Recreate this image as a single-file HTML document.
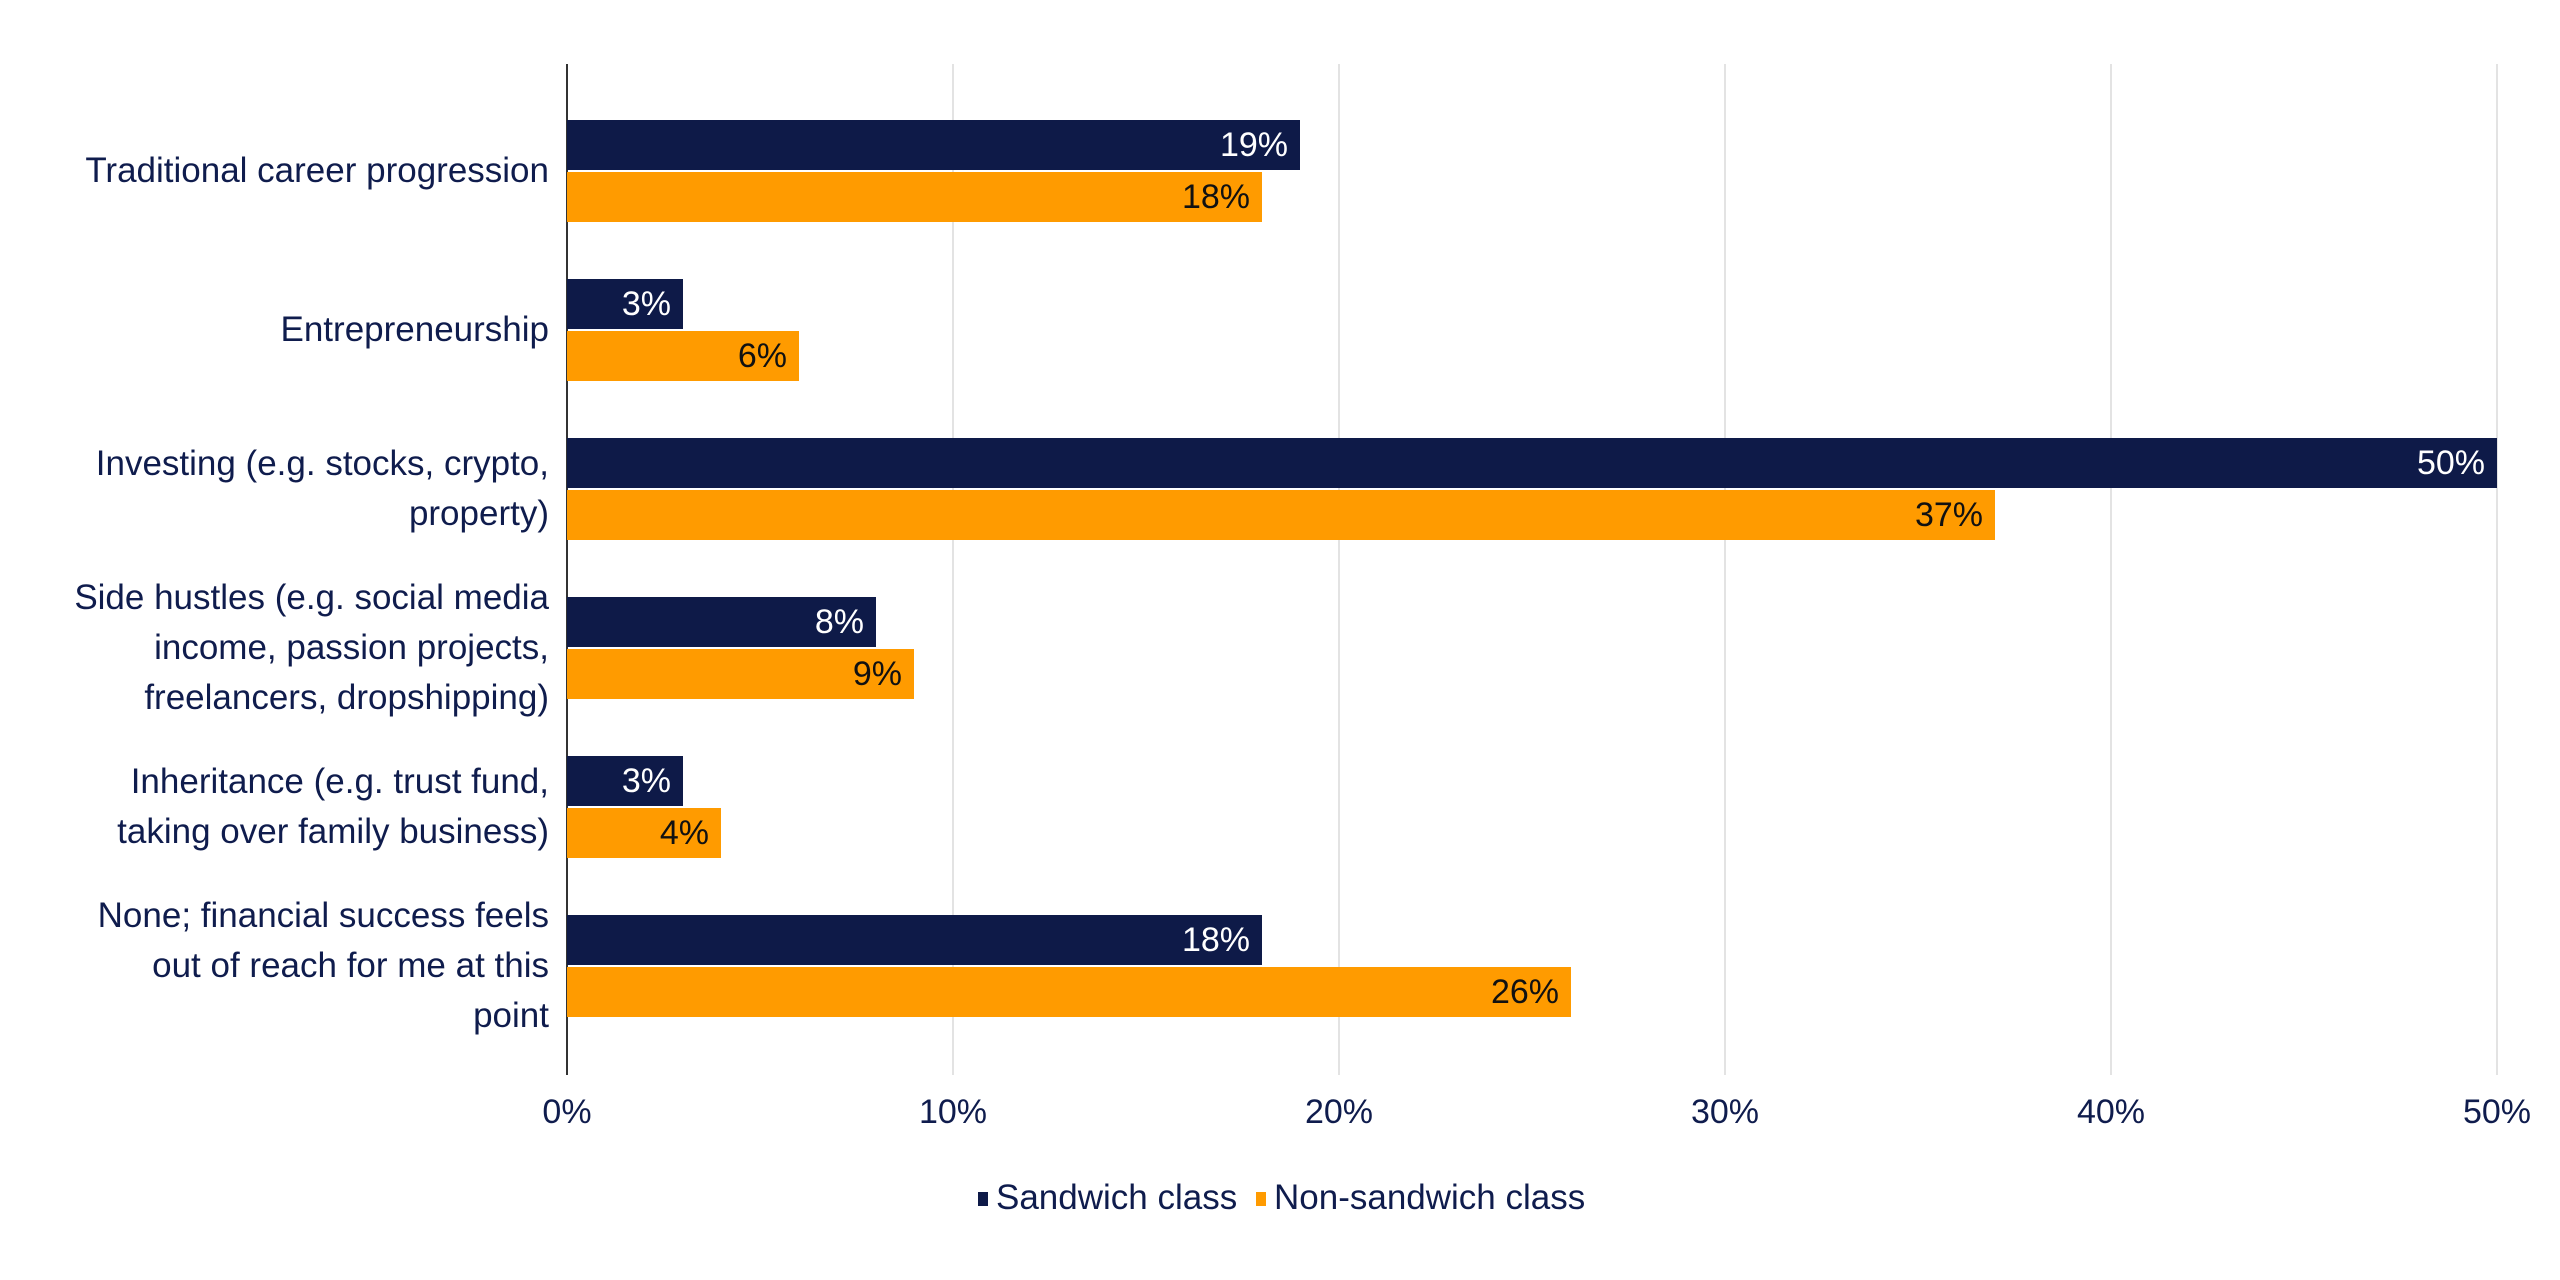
<!DOCTYPE html>
<html><head><style>
html,body{margin:0;padding:0;background:#fff;}
body{width:2560px;height:1280px;position:relative;overflow:hidden;font-family:"Liberation Sans",Arial,sans-serif;color:#0f1c4d;}
.grid{position:absolute;top:64px;height:1011px;width:2px;background:#e3e3e3;}
.axis{position:absolute;left:566px;top:64px;height:1011px;width:2px;background:#333;}
.bar{position:absolute;height:50px;}
.n{background:#0e1a48;}
.o{background:#ff9b00;}
.v{position:absolute;right:12px;top:0;line-height:50px;font-size:34px;}
.n .v{color:#fff}.o .v{color:#111}
.lab{position:absolute;right:2011px;width:560px;text-align:right;font-size:35px;line-height:50px;transform:translateY(-50%);}
.tick{position:absolute;top:1093px;font-size:34px;width:120px;margin-left:-60px;text-align:center;}
.leg{position:absolute;top:1178px;font-size:35px;line-height:40px;}
.sq{position:absolute;top:1192px;width:10px;height:14px;}
</style></head><body>
<div class="grid" style="left:952px"></div>
<div class="grid" style="left:1338px"></div>
<div class="grid" style="left:1724px"></div>
<div class="grid" style="left:2110px"></div>
<div class="grid" style="left:2496px"></div>
<div class="axis"></div>

<div class="lab" style="top:171px">Traditional career progression</div>
<div class="lab" style="top:330px">Entrepreneurship</div>
<div class="lab" style="top:489px">Investing (e.g. stocks, crypto,<br>property)</div>
<div class="lab" style="top:648px">Side hustles (e.g. social media<br>income, passion projects,<br>freelancers, dropshipping)</div>
<div class="lab" style="top:807px">Inheritance (e.g. trust fund,<br>taking over family business)</div>
<div class="lab" style="top:966px">None; financial success feels<br>out of reach for me at this<br>point</div>

<div class="bar n" style="left:567px;top:120px;width:733px"><span class="v">19%</span></div>
<div class="bar o" style="left:567px;top:172px;width:695px"><span class="v">18%</span></div>
<div class="bar n" style="left:567px;top:279px;width:116px"><span class="v">3%</span></div>
<div class="bar o" style="left:567px;top:331px;width:232px"><span class="v">6%</span></div>
<div class="bar n" style="left:567px;top:438px;width:1930px"><span class="v">50%</span></div>
<div class="bar o" style="left:567px;top:490px;width:1428px"><span class="v">37%</span></div>
<div class="bar n" style="left:567px;top:597px;width:309px"><span class="v">8%</span></div>
<div class="bar o" style="left:567px;top:649px;width:347px"><span class="v">9%</span></div>
<div class="bar n" style="left:567px;top:756px;width:116px"><span class="v">3%</span></div>
<div class="bar o" style="left:567px;top:808px;width:154px"><span class="v">4%</span></div>
<div class="bar n" style="left:567px;top:915px;width:695px"><span class="v">18%</span></div>
<div class="bar o" style="left:567px;top:967px;width:1004px"><span class="v">26%</span></div>

<div class="tick" style="left:567px">0%</div>
<div class="tick" style="left:953px">10%</div>
<div class="tick" style="left:1339px">20%</div>
<div class="tick" style="left:1725px">30%</div>
<div class="tick" style="left:2111px">40%</div>
<div class="tick" style="left:2497px">50%</div>

<div class="sq" style="left:978px;background:#0e1a48"></div>
<div class="leg" style="left:996px">Sandwich class</div>
<div class="sq" style="left:1256px;background:#ff9b00"></div>
<div class="leg" style="left:1274px">Non-sandwich class</div>
</body></html>
